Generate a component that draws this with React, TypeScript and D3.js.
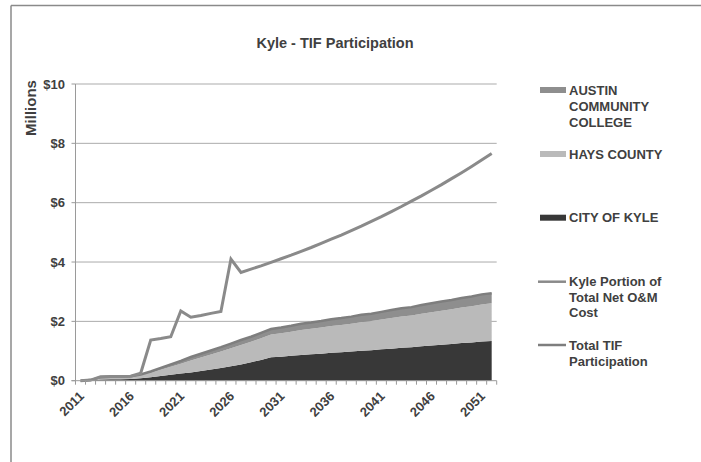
import React from "react";
import * as d3 from "d3";

// Fiscal years on the category axis
const years: number[] = [
  2011, 2012, 2013, 2014, 2015, 2016, 2017, 2018, 2019, 2020,
  2021, 2022, 2023, 2024, 2025, 2026, 2027, 2028, 2029, 2030,
  2031, 2032, 2033, 2034, 2035, 2036, 2037, 2038, 2039, 2040,
  2041, 2042, 2043, 2044, 2045, 2046, 2047, 2048, 2049, 2050,
  2051, 2052,
];

// TIF participation by entity, $ millions (stacked areas)
const cityOfKyle: number[] = [
  0.0, 0.01, 0.04, 0.05, 0.05, 0.06, 0.08, 0.12, 0.16, 0.2,
  0.24, 0.28, 0.33, 0.38, 0.43, 0.49, 0.55, 0.62, 0.7, 0.79,
  0.81, 0.84, 0.87, 0.89, 0.91, 0.94, 0.96, 0.98, 1.01, 1.03,
  1.06, 1.08, 1.11, 1.13, 1.16, 1.19, 1.21, 1.24, 1.27, 1.29,
  1.32, 1.34,
];
const haysCounty: number[] = [
  0.0, 0.01, 0.06, 0.06, 0.07, 0.07, 0.1, 0.15, 0.21, 0.27,
  0.33, 0.4, 0.45, 0.5, 0.55, 0.6, 0.65, 0.69, 0.73, 0.77,
  0.79, 0.81, 0.84, 0.86, 0.88, 0.9, 0.92, 0.94, 0.96, 0.98,
  1.0, 1.03, 1.05, 1.07, 1.1, 1.12, 1.15, 1.17, 1.2, 1.22,
  1.25, 1.27,
];
const austinCC: number[] = [
  0.0, 0.0, 0.02, 0.02, 0.02, 0.02, 0.03, 0.04, 0.06, 0.08,
  0.1, 0.12, 0.13, 0.14, 0.15, 0.16, 0.17, 0.17, 0.18, 0.18,
  0.19, 0.2, 0.21, 0.21, 0.22, 0.23, 0.23, 0.24, 0.25, 0.25,
  0.26, 0.27, 0.28, 0.28, 0.29, 0.3, 0.31, 0.31, 0.32, 0.33,
  0.34, 0.34,
];

// Kyle portion of total net O&M cost, $ millions
const kylePortion: number[] = [
  0.0, 0.02, 0.13, 0.14, 0.14, 0.15, 0.25, 1.37, 1.42, 1.48,
  2.35, 2.14, 2.2, 2.27, 2.33, 4.1, 3.65, 3.76, 3.87, 3.99,
  4.11, 4.23, 4.36, 4.49, 4.63, 4.77, 4.91, 5.06, 5.21, 5.37,
  5.53, 5.7, 5.87, 6.05, 6.23, 6.42, 6.61, 6.81, 7.01, 7.22,
  7.44, 7.66,
];

const yTicks: number[] = [0, 2, 4, 6, 8, 10];
const xLabelYears: number[] = [2011, 2016, 2021, 2026, 2031, 2036, 2041, 2046, 2051];

const FONT = "'Liberation Sans', Arial, Helvetica, sans-serif";
const TEXT = "#404040";

const C_CITY = "#383838";
const C_HAYS = "#bababa";
const C_ACC = "#8e8e8e";
const C_KYLE_LINE = "#8a8a8a";
const C_TOTAL_LINE = "#7e7e7e";

export default function App() {
  const W = 701;
  const H = 462;
  const left = 75.5;
  const right = 496.7;
  const top = 84;
  const bottom = 380.7;

  const x = d3.scaleBand<number>().domain(years).range([left, right]).padding(0);
  const cx = (yr: number) => (x(yr) as number) + x.bandwidth() / 2;
  const y = d3.scaleLinear().domain([0, 10]).range([bottom, top]);

  const rows = years.map((yr, i) => ({
    year: yr,
    city: cityOfKyle[i],
    hays: haysCounty[i],
    acc: austinCC[i],
  }));
  const series = d3.stack<any>().keys(["city", "hays", "acc"])(rows);
  const fills: Record<string, string> = { city: C_CITY, hays: C_HAYS, acc: C_ACC };

  const area = d3
    .area<any>()
    .x((d) => cx(d.data.year))
    .y0((d) => y(d[0]))
    .y1((d) => y(d[1]));

  const totalLine = d3
    .line<any>()
    .x((d) => cx(d.data.year))
    .y((d) => y(d[1]));

  const kyleLine = d3
    .line<number>()
    .x((_, i) => cx(years[i]))
    .y((d) => y(d));

  const boundaries = d3.range(years.length + 1).map((i) => left + i * x.bandwidth());

  const legendX = 540;
  const legendTextX = 569;
  const swW = 26;

  return (
    <svg
      width={W}
      height={H}
      style={{ position: "absolute", left: 0, top: 0, background: "#fff" }}
      fontFamily={FONT}
    >
      <rect x={0} y={0} width={W} height={H} fill="#fff" />
      {/* chart frame */}
      <line x1={11} y1={5.5} x2={W} y2={5.5} stroke="#8a8a8a" strokeWidth={1.5} />
      <line x1={11} y1={5.5} x2={11} y2={H} stroke="#8a8a8a" strokeWidth={1.5} />

      <text x={335} y={43} textAnchor="middle" dy="0.35em" fontSize={14.5} fontWeight="bold" fill={TEXT}>
        Kyle - TIF Participation
      </text>

      {/* gridlines */}
      {yTicks.filter((t) => t > 0).map((t) => (
        <line key={t} x1={left} x2={right} y1={y(t)} y2={y(t)} stroke="#ababab" strokeWidth={1} />
      ))}

      {/* stacked participation areas */}
      {series.map((s) => (
        <path key={s.key} d={area(s) as string} fill={fills[s.key]} />
      ))}

      {/* total TIF participation along the stack top */}
      <path d={totalLine(series[2]) as string} fill="none" stroke={C_TOTAL_LINE} strokeWidth={2.5} />

      {/* Kyle portion of O&M cost */}
      <path
        d={kyleLine(kylePortion) as string}
        fill="none"
        stroke={C_KYLE_LINE}
        strokeWidth={3}
        strokeLinejoin="miter"
      />

      {/* axes */}
      <line x1={left} x2={left} y1={top} y2={bottom} stroke="#9a9a9a" strokeWidth={1} />
      {yTicks.map((t) => (
        <g key={t}>
          <line x1={left - 4} x2={left} y1={y(t)} y2={y(t)} stroke="#9a9a9a" />
          <text x={65} y={y(t)} dy="0.35em" textAnchor="end" fontSize={13} fontWeight="bold" fill={TEXT}>
            {"$" + t}
          </text>
        </g>
      ))}
      <line x1={left - 4} x2={right} y1={bottom} y2={bottom} stroke="#9a9a9a" strokeWidth={1} />
      {boundaries.map((bx, i) => (
        <line key={i} x1={bx} x2={bx} y1={bottom} y2={bottom + 4} stroke="#9a9a9a" />
      ))}
      {xLabelYears.map((yr) => (
        <text
          key={yr}
          transform={`translate(${cx(yr) + 1},${bottom + 13}) rotate(-45)`}
          textAnchor="end"
          dy="0.35em"
          fontSize={13}
          fontWeight="bold"
          fill={TEXT}
        >
          {yr}
        </text>
      ))}

      <text
        transform={`translate(31,108) rotate(-90)`}
        textAnchor="middle"
        dy="0.35em"
        fontSize={15}
        fontWeight="bold"
        fill={TEXT}
      >
        Millions
      </text>

      {/* legend */}
      <rect x={legendX} y={87} width={swW} height={6} fill={C_ACC} />
      {["AUSTIN", "COMMUNITY", "COLLEGE"].map((s, i) => (
        <text key={s} x={legendTextX} y={90 + i * 16} dy="0.35em" fontSize={13} fontWeight="bold" fill={TEXT}>
          {s}
        </text>
      ))}
      <rect x={legendX} y={151} width={swW} height={6} fill={C_HAYS} />
      <text x={legendTextX} y={154.3} dy="0.35em" fontSize={13} fontWeight="bold" fill={TEXT}>
        HAYS COUNTY
      </text>
      <rect x={legendX} y={214.7} width={swW} height={6} fill={C_CITY} />
      <text x={legendTextX} y={217.7} dy="0.35em" fontSize={13} fontWeight="bold" fill={TEXT}>
        CITY OF KYLE
      </text>
      <line x1={legendX - 2} x2={legendX + swW} y1={281.7} y2={281.7} stroke={C_KYLE_LINE} strokeWidth={2.5} />
      {["Kyle Portion of", "Total Net O&M", "Cost"].map((s, i) => (
        <text key={s} x={legendTextX} y={281.7 + i * 15.5} dy="0.35em" fontSize={13} fontWeight="bold" fill={TEXT}>
          {s}
        </text>
      ))}
      <line x1={legendX - 2} x2={legendX + swW} y1={345} y2={345} stroke={C_TOTAL_LINE} strokeWidth={2.5} />
      {["Total TIF", "Participation"].map((s, i) => (
        <text key={s} x={legendTextX} y={345 + i * 16} dy="0.35em" fontSize={13} fontWeight="bold" fill={TEXT}>
          {s}
        </text>
      ))}
    </svg>
  );
}
